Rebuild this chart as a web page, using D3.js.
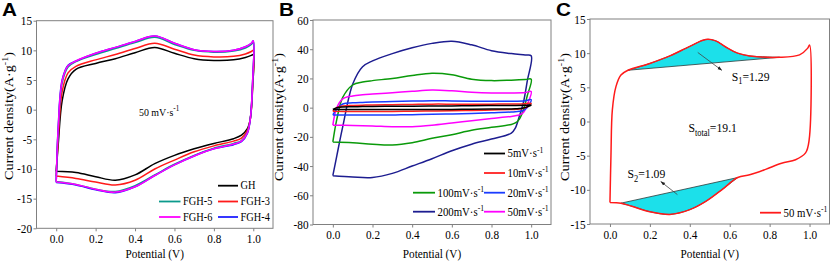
<!DOCTYPE html>
<html>
<head>
<meta charset="utf-8">
<script src="https://cdn.jsdelivr.net/npm/d3@7"></script>
<style>
  body { margin: 0; background: #fff; }
  svg { display: block; }
  text { font-family: "Liberation Serif", "Times New Roman", serif; fill: #000; }
  .letter { font-family: "Liberation Sans", Arial, sans-serif; font-weight: bold; }
</style>
</head>
<body>
<div id="chart"></div>
<script>
// ---- shared ticks
const xTicks = [0.0, 0.2, 0.4, 0.6, 0.8, 1.0];
const yTicksA = [-20, -15, -10, -5, 0, 5, 10, 15];
const yTicksB = [-80, -60, -40, -20, 0, 20, 40, 60];
const yTicksC = [-15, -10, -5, 0, 5, 10, 15];

// ---- panel A: CV loops at 50 mV/s (forward sweep then reverse sweep)
const potentialA = [0.0, 0.01, 0.03, 0.06, 0.1, 0.2, 0.3, 0.4, 0.5, 0.6, 0.7, 0.8, 0.9, 0.96, 0.99, 1.0,
                    0.997, 0.985, 0.97, 0.94, 0.9, 0.8, 0.7, 0.6, 0.5, 0.4, 0.3, 0.2, 0.1, 0.0];
const currentGH   = [-10.4, -6.0, 1.5, 5.2, 6.8, 7.8, 8.6, 9.6, 10.5, 9.5, 8.6, 8.3, 8.4, 8.8, 9.15, 9.3,
                     4.0, -1.5, -3.2, -4.3, -4.9, -5.7, -6.6, -7.7, -9.1, -11.0, -11.9, -11.3, -10.6, -10.4];
const currentFGH3 = [-11.2, -5.0, 3.0, 6.2, 7.3, 8.4, 9.3, 10.3, 11.2, 10.2, 9.2, 8.9, 9.0, 9.4, 9.8, 10.0,
                     4.5, -1.5, -3.5, -4.8, -5.3, -6.1, -7.1, -8.5, -10.0, -11.9, -12.7, -12.2, -11.6, -11.2];
const currentFGH5 = [-12.1, -3.5, 4.5, 7.2, 8.1, 9.3, 10.3, 11.3, 12.2, 11.0, 10.0, 9.7, 9.9, 10.4, 11.0, 11.4,
                     5.0, -1.5, -3.8, -5.2, -5.7, -6.5, -7.7, -9.2, -11.0, -12.8, -13.8, -13.4, -12.6, -12.1];
const currentFGH4 = [-12.3, -3.0, 5.0, 7.5, 8.2, 9.5, 10.5, 11.5, 12.4, 11.2, 10.1, 9.8, 10.0, 10.6, 11.2, 11.6,
                     5.0, -1.5, -4.0, -5.4, -5.9, -6.6, -7.8, -9.3, -11.1, -13.0, -14.0, -13.5, -12.7, -12.3];
const currentFGH6 = [-12.2, -3.2, 4.8, 7.4, 8.2, 9.5, 10.5, 11.5, 12.4, 11.2, 10.1, 9.8, 10.0, 10.6, 11.2, 11.6,
                     5.0, -1.5, -3.9, -5.3, -5.8, -6.6, -7.8, -9.3, -11.1, -13.0, -13.9, -13.4, -12.6, -12.2];

// ---- panel B: scan rates
const potentialB = [0.0, 0.02, 0.05, 0.1, 0.15, 0.2, 0.3, 0.4, 0.5, 0.6, 0.7, 0.8, 0.9, 0.97, 1.0,
                    0.98, 0.96, 0.94, 0.92, 0.9, 0.8, 0.7, 0.6, 0.5, 0.4, 0.3, 0.2, 0.1, 0.0];
const current200 = [-46.6, -33, -13, 16, 28, 32, 37, 41, 44, 45.5, 43, 39, 37, 36, 35.5,
                    18, 3, -6, -14, -17.5, -21.5, -25, -29.5, -35, -40, -45, -47.8, -47.5, -46.6];
const current100 = [-23.5, -8, 7, 15.5, 17.5, 18.5, 20, 22, 23.5, 22.5, 19.5, 18.5, 18.8, 19.2, 19.5,
                    8, -2, -8, -10.5, -11.5, -13.5, -15.5, -18.5, -21, -24, -25.5, -25, -24, -23.5];
const current50  = [-12, 0, 6, 8, 8.8, 9.3, 10.2, 11.2, 12, 11.5, 10.5, 10, 10, 10.3, 11,
                    2, -3.5, -5, -5.5, -6, -7.5, -9, -10.5, -12, -13, -13, -12.5, -12.2, -12];
const current20  = [-5, -1, 2.5, 3.3, 3.6, 3.8, 4.2, 4.5, 4.8, 4.6, 4.4, 4.3, 4.4, 4.8, 5.5,
                    0, -2, -2.5, -2.8, -3, -3.5, -4, -4.3, -4.6, -4.8, -5, -5, -5, -5];
const current10  = [-2.5, 0, 1.2, 1.5, 1.7, 1.8, 2.0, 2.2, 2.4, 2.4, 2.4, 2.4, 2.5, 2.7, 3.0,
                    0.5, -0.5, -1, -1.2, -1.3, -1.6, -1.9, -2.1, -2.3, -2.5, -2.6, -2.6, -2.6, -2.5];
const current5   = [-1.2, 0, 0.5, 0.6, 0.7, 0.8, 0.9, 1.0, 1.1, 1.2, 1.3, 1.4, 1.5, 1.6, 1.8,
                    0.5, -0.3, -0.6, -0.8, -0.9, -1.0, -1.1, -1.2, -1.3, -1.3, -1.3, -1.3, -1.3, -1.2];

// ---- panel C: one loop with shaded redox areas
const potentialC = [0.0, 0.005, 0.012, 0.03, 0.055, 0.09, 0.2, 0.3, 0.4, 0.48, 0.53, 0.58, 0.64, 0.7, 0.85, 0.95, 0.99, 1.0,
                    0.998, 0.98, 0.93, 0.86, 0.78, 0.7, 0.64, 0.56, 0.48, 0.4, 0.3, 0.2, 0.11, 0.055, 0.0];
const currentC   = [-11.85, -5.0, 1.7, 5.1, 6.8, 7.5, 8.5, 9.6, 11.0, 12.0, 11.8, 10.9, 10.0, 9.6, 9.4, 9.75, 10.7, 11.2,
                    -2.7, -4.6, -5.6, -6.1, -7.0, -7.8, -8.2, -10.0, -11.7, -12.9, -13.6, -13.2, -12.4, -11.95, -11.85];
const s1Chord = [0.09, 0.85];   // anodic peak baseline
const s2Chord = [0.055, 0.64];  // cathodic peak baseline
const areaLabels = ["1.29", "1.09", "19.1"];

const squeeze = 0.9;

const svg = d3.select("#chart").append("svg")
    .attr("width", 830)
    .attr("height", 263);

// text with sub / superscripts
function richText(parent, x, y, parts, size, anchor) {
    let t = parent.append("text")
        .attr("transform", `translate(${x},${y}) scale(${squeeze},1)`)
        .attr("font-size", size)
        .attr("text-anchor", anchor || "start");
    let shift = 0;
    parts.forEach(([str, kind]) => {
        let target = kind === "sup" ? -size * 0.4 : kind === "sub" ? size * 0.28 : 0;
        let ts = t.append("tspan").attr("dy", target - shift).text(str);
        if (kind) ts.attr("font-size", size * 0.72);
        shift = target;
    });
    return t;
}

function panel(cfg) {
    let g = svg.append("g");
    let x = d3.scaleLinear().domain([-0.1, 1.1]).range([cfg.left, cfg.right]);
    let y = d3.scaleLinear().domain(cfg.yDomain).range([cfg.bottom, cfg.top]);

    g.append("rect")
        .attr("x", cfg.left).attr("y", cfg.top)
        .attr("width", cfg.right - cfg.left).attr("height", cfg.bottom - cfg.top)
        .attr("fill", "none").attr("stroke", "#808080").attr("stroke-width", 1);

    let xa = g.append("g")
        .attr("transform", `translate(0,${cfg.bottom})`)
        .call(d3.axisBottom(x).tickValues(xTicks).tickFormat(d3.format(".1f")).tickSize(3).tickPadding(3));
    let ya = g.append("g")
        .attr("transform", `translate(${cfg.left},0)`)
        .call(d3.axisLeft(y).tickValues(cfg.yTicks).tickFormat(d => String(d)).tickSize(3).tickPadding(2));
    [xa, ya].forEach(a => {
        a.attr("font-family", null);
        a.select(".domain").remove();
        a.selectAll(".tick line").attr("stroke", "#808080");
        a.selectAll(".tick text")
            .attr("font-size", 12.5)
            .attr("fill", "#000")
            .attr("transform", `scale(${squeeze},1)`);
    });

    // axis titles
    richText(g, (cfg.left + cfg.right) / 2, 258, [["Potential (V)"]], 12.5, "middle");
    let yl = g.append("text")
        .attr("transform", `translate(${cfg.labelX},${cfg.labelY}) scale(${squeeze},1) rotate(-90)`)
        .attr("font-size", 14.2)
        .attr("text-anchor", "middle");
    yl.append("tspan").text("Current density(A·g");
    yl.append("tspan").attr("dy", -5.5).attr("font-size", 10).text("-1");
    yl.append("tspan").attr("dy", 5.5).text(")");

    // panel letter
    g.append("text")
        .attr("class", "letter")
        .attr("transform", `translate(${cfg.letterX},16) scale(1.15,1)`)
        .attr("font-size", 18)
        .text(cfg.letter);

    return {g: g, x: x, y: y};
}

function loop(p, xs, ys) {
    return d3.line()
        .x((d, i) => p.x(xs[i]))
        .y((d, i) => p.y(ys[i]))
        .curve(d3.curveCatmullRom.alpha(0.5))(xs);
}

function legendItem(g, x1, x2, y, color, parts, size) {
    g.append("line")
        .attr("x1", x1).attr("x2", x2).attr("y1", y).attr("y2", y)
        .attr("stroke", color).attr("stroke-width", 1.8);
    richText(g, x2 + 2.5, y + size * 0.33, parts, size);
}

const mvs = label => [[label + "mV·s"], ["-1", "sup"]];

// ================= A =================
const pA = panel({left: 36.5, right: 273, top: 20.7, bottom: 228.3, yDomain: [-20, 15], yTicks: yTicksA,
                  labelX: 12.5, labelY: 116, letter: "A", letterX: 2});
const seriesA = [
    {name: "GH", values: currentGH, color: "#000000"},
    {name: "FGH-3", values: currentFGH3, color: "#ff1a1a"},
    {name: "FGH-5", values: currentFGH5, color: "#0c9a8c"},
    {name: "FGH-4", values: currentFGH4, color: "#2020ff"},
    {name: "FGH-6", values: currentFGH6, color: "#ff00ff"}
];
pA.g.selectAll(".cvA")
    .data(seriesA)
    .join("path")
    .attr("class", "cvA")
    .attr("d", d => loop(pA, potentialA, d.values))
    .attr("fill", "none")
    .attr("stroke", d => d.color)
    .attr("stroke-width", 1.5);
richText(pA.g, pA.x(0.42), pA.y(-1.0), [["50 mV·s"], ["-1", "sup"]], 11);
legendItem(pA.g, 218, 238, 185.7, "#000000", [["GH"]], 11.5);
legendItem(pA.g, 218, 238, 201.5, "#ff1a1a", [["FGH-3"]], 11.5);
legendItem(pA.g, 218, 238, 217, "#2020ff", [["FGH-4"]], 11.5);
legendItem(pA.g, 159, 180.5, 201.5, "#0c9a8c", [["FGH-5"]], 11.5);
legendItem(pA.g, 159, 180.5, 217, "#ff00ff", [["FGH-6"]], 11.5);

// ================= B =================
const pB = panel({left: 313, right: 551, top: 20, bottom: 224.5, yDomain: [-80, 60], yTicks: yTicksB,
                  labelX: 283, labelY: 117, letter: "B", letterX: 279});
const seriesB = [
    {name: "200", values: current200, color: "#1d1d90"},
    {name: "100", values: current100, color: "#0a9a0a"},
    {name: "50", values: current50, color: "#ff00ff"},
    {name: "20", values: current20, color: "#1a3cff"},
    {name: "10", values: current10, color: "#ff2020"},
    {name: "5", values: current5, color: "#000000"}
];
pB.g.selectAll(".cvB")
    .data(seriesB)
    .join("path")
    .attr("class", "cvB")
    .attr("d", d => loop(pB, potentialB, d.values))
    .attr("fill", "none")
    .attr("stroke", d => d.color)
    .attr("stroke-width", 1.5);
legendItem(pB.g, 484, 505, 153.5, "#000000", mvs("5"), 12);
legendItem(pB.g, 484, 505, 173, "#ff2020", mvs("10"), 12);
legendItem(pB.g, 484, 505, 192.7, "#1a3cff", mvs("20"), 12);
legendItem(pB.g, 484, 505, 211.7, "#ff00ff", mvs("50"), 12);
legendItem(pB.g, 413, 435, 192.7, "#0a9a0a", mvs("100"), 12);
legendItem(pB.g, 413, 435, 211.7, "#1d1d90", mvs("200"), 12);

// ================= C =================
const pC = panel({left: 590, right: 829.5, top: 19, bottom: 224, yDomain: [-15, 15], yTicks: yTicksC,
                  labelX: 569, labelY: 117, letter: "C", letterX: 556});
const half = potentialC.indexOf(1.0);
const idx = potentialC.map((d, i) => i);
const s1Idx = idx.filter(i => i <= half && potentialC[i] >= s1Chord[0] && potentialC[i] <= s1Chord[1]);
const s2Idx = idx.filter(i => i > half && potentialC[i] >= s2Chord[0] && potentialC[i] <= s2Chord[1]);
const areaPath = ids => d3.line()
    .x(i => pC.x(potentialC[i]))
    .y(i => pC.y(currentC[i]))
    .curve(d3.curveCatmullRom.alpha(0.5))(ids) + "Z";
[s1Idx, s2Idx].forEach(ids => {
    pC.g.append("path")
        .attr("d", areaPath(ids))
        .attr("fill", "#1ce0ea")
        .attr("stroke", "#2a3a3a")
        .attr("stroke-width", 0.8);
});
pC.g.append("path")
    .attr("d", loop(pC, potentialC, currentC))
    .attr("fill", "none")
    .attr("stroke", "#ff1a1a")
    .attr("stroke-width", 1.5);

// arrows
svg.append("defs").append("marker")
    .attr("id", "arrow")
    .attr("viewBox", "0 0 10 10")
    .attr("refX", 9).attr("refY", 5)
    .attr("markerWidth", 6).attr("markerHeight", 6)
    .attr("orient", "auto")
    .append("path").attr("d", "M0,1.5 L10,5 L0,8.5 Z").attr("fill", "#222");
[[0.44, 10.1, 0.56, 7.5], [0.338, -10.7, 0.255, -8.8]].forEach(a => {
    pC.g.append("line")
        .attr("x1", pC.x(a[0])).attr("y1", pC.y(a[1]))
        .attr("x2", pC.x(a[2])).attr("y2", pC.y(a[3]))
        .attr("stroke", "#444").attr("stroke-width", 0.8)
        .attr("marker-end", "url(#arrow)");
});
richText(pC.g, pC.x(0.61), pC.y(5.95), [["S"], ["1", "sub"], ["=" + areaLabels[0]]], 13);
richText(pC.g, pC.x(0.088), pC.y(-8.3), [["S"], ["2", "sub"], ["=" + areaLabels[1]]], 13);
richText(pC.g, pC.x(0.393), pC.y(-1.6), [["S"], ["total", "sub"], ["=" + areaLabels[2]]], 13);
legendItem(pC.g, 760, 781, 212.7, "#ff1a1a", [["50 mV·s"], ["-1", "sup"]], 12);
</script>
</body>
</html>
